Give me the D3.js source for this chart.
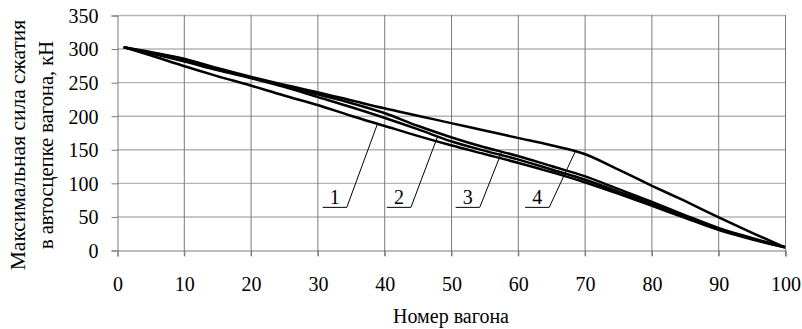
<!DOCTYPE html>
<html>
<head>
<meta charset="utf-8">
<script src="https://cdn.jsdelivr.net/npm/d3@7"></script>
<style>
  html, body { margin: 0; padding: 0; background: #fff; }
  svg { display: block; }
</style>
</head>
<body>
<svg id="chart" width="802" height="329"></svg>
<script>
// Wagon numbers at which the compression force is given
const wagons = [1, 5, 10, 15, 20, 25, 30, 35, 40, 45, 50, 55, 60, 65, 70, 75, 80, 85, 90, 95, 100];

// Maximum compression force in the coupler, kN, for each case
const force1 = [302, 290, 274, 259, 245, 230, 216, 200, 185, 170, 156, 143, 130, 116, 101, 84, 66, 48, 30, 16, 4];
const force2 = [302, 293, 281, 268, 256, 243, 228, 213, 197, 180, 162, 148, 135, 120, 105, 87, 69, 50, 31, 17, 4];
const force3 = [302, 294, 284, 270, 257, 245, 232, 219, 204, 185, 168, 153, 140, 125, 110, 91, 72, 52, 33, 18, 4];
const force4 = [302, 295, 285, 271, 258, 246, 235, 223, 211, 200, 189, 178, 167, 156, 143, 120, 96, 73, 49, 26, 4];

const seriesNames = ["1", "2", "3", "4"];
const seriesValues = [force1, force2, force3, force4];

// Where each numbered callout points on its curve (wagon number)
const calloutTargets = [39, 48, 57.6, 68.6];

const xTicks = [0, 10, 20, 30, 40, 50, 60, 70, 80, 90, 100];
const yTicks = [0, 50, 100, 150, 200, 250, 300, 350];

const xTitle = "Номер вагона";
const yTitleLines = ["Максимальная сила сжатия", "в автосцепке вагона, кН"];
const yTitleSizes = [21.5, 20.5];

const FONT = "Liberation Serif";

const svg = d3.select("#chart");
const plotLeft = 117, plotRight = 785, plotTop = 15, plotBottom = 250;

const x = d3.scaleLinear().domain([0, 100]).range([plotLeft, plotRight]);
const y = d3.scaleLinear().domain([0, 350]).range([plotBottom, plotTop]);

// Horizontal grid lines
svg.append("g")
  .selectAll("line")
  .data(yTicks.filter(d => d > 0))
  .join("line")
  .attr("x1", plotLeft).attr("x2", plotRight)
  .attr("y1", d => y(d) + 0.5).attr("y2", d => y(d) + 0.5)
  .attr("stroke", "#b4b4b4").attr("stroke-width", 1.4);

// Vertical grid lines
svg.append("g")
  .selectAll("line")
  .data(xTicks.filter(d => d > 0))
  .join("line")
  .attr("x1", d => x(d) + 0.5).attr("x2", d => x(d) + 0.5)
  .attr("y1", plotTop).attr("y2", plotBottom + 6)
  .attr("stroke", "#7a7a7a").attr("stroke-width", 1);

// Axes
const xAxis = d3.axisBottom(x).tickValues(xTicks).tickSize(6).tickPadding(20).tickFormat(d3.format("d"));
const yAxis = d3.axisLeft(y).tickValues(yTicks).tickSize(6).tickPadding(13).tickFormat(d3.format("d"));

const gx = svg.append("g").attr("transform", `translate(0.5,${plotBottom + 0.5})`).call(xAxis);
const gy = svg.append("g").attr("transform", `translate(${plotLeft + 0.5},0.5)`).call(yAxis);

[gx, gy].forEach(g => {
  g.attr("font-family", FONT).attr("font-size", 20);
  g.select(".domain").attr("stroke", "#7a7a7a").attr("stroke-width", 1);
  g.selectAll(".tick line").attr("stroke", "#7a7a7a");
  g.selectAll(".tick text")
    .attr("font-family", FONT)
    .attr("font-size", 20)
    .attr("fill", "#000");
});
gy.selectAll(".tick text").attr("dy", "0.34em");

// Force curves
const line = d3.line()
  .x((d, i) => x(wagons[i]))
  .y(d => y(d))
  .curve(d3.curveMonotoneX);

svg.append("g")
  .selectAll("path")
  .data(seriesValues)
  .join("path")
  .attr("d", d => line(d))
  .attr("fill", "none")
  .attr("stroke", "#000")
  .attr("stroke-width", 2.5)
  .attr("stroke-linejoin", "round");

// Numbered callouts: a number on a short shelf, with a slanted leader to its curve
const valueAt = (vals, w) => {
  const i = d3.bisectRight(wagons, w) - 1;
  const j = Math.min(i + 1, wagons.length - 1);
  const t = j === i ? 0 : (w - wagons[i]) / (wagons[j] - wagons[i]);
  return vals[i] + t * (vals[j] - vals[i]);
};

const shelfLevel = 63.5;   // force level of the shelves
const shelfLen = 3.6;      // shelf length, in wagons
const leaderRun = [4.6, 4.0, 3.3, 3.9]; // horizontal run of each leader, in wagons

const callouts = svg.append("g");
seriesNames.forEach((name, k) => {
  const tx = calloutTargets[k];
  const ty = valueAt(seriesValues[k], tx);
  const sx = tx - leaderRun[k];
  callouts.append("line")
    .attr("x1", x(sx - shelfLen)).attr("x2", x(sx))
    .attr("y1", y(shelfLevel)).attr("y2", y(shelfLevel))
    .attr("stroke", "#000").attr("stroke-width", 1);
  callouts.append("line")
    .attr("x1", x(sx)).attr("y1", y(shelfLevel))
    .attr("x2", x(tx)).attr("y2", y(ty))
    .attr("stroke", "#000").attr("stroke-width", 1);
  callouts.append("text")
    .attr("x", x(sx - shelfLen / 2))
    .attr("y", y(shelfLevel) - 3)
    .attr("text-anchor", "middle")
    .attr("font-family", FONT)
    .attr("font-size", 20)
    .text(name);
});

// Axis titles
svg.append("text")
  .attr("x", (plotLeft + plotRight) / 2)
  .attr("y", 323)
  .attr("text-anchor", "middle")
  .attr("font-family", FONT)
  .attr("font-size", 20)
  .text(xTitle);

yTitleLines.forEach((t, i) => {
  svg.append("text")
    .attr("transform", `translate(${25 + i * 28},145) rotate(-90)`)
    .attr("text-anchor", "middle")
    .attr("font-family", FONT)
    .attr("font-size", yTitleSizes[i])
    .text(t);
});
</script>
</body>
</html>
